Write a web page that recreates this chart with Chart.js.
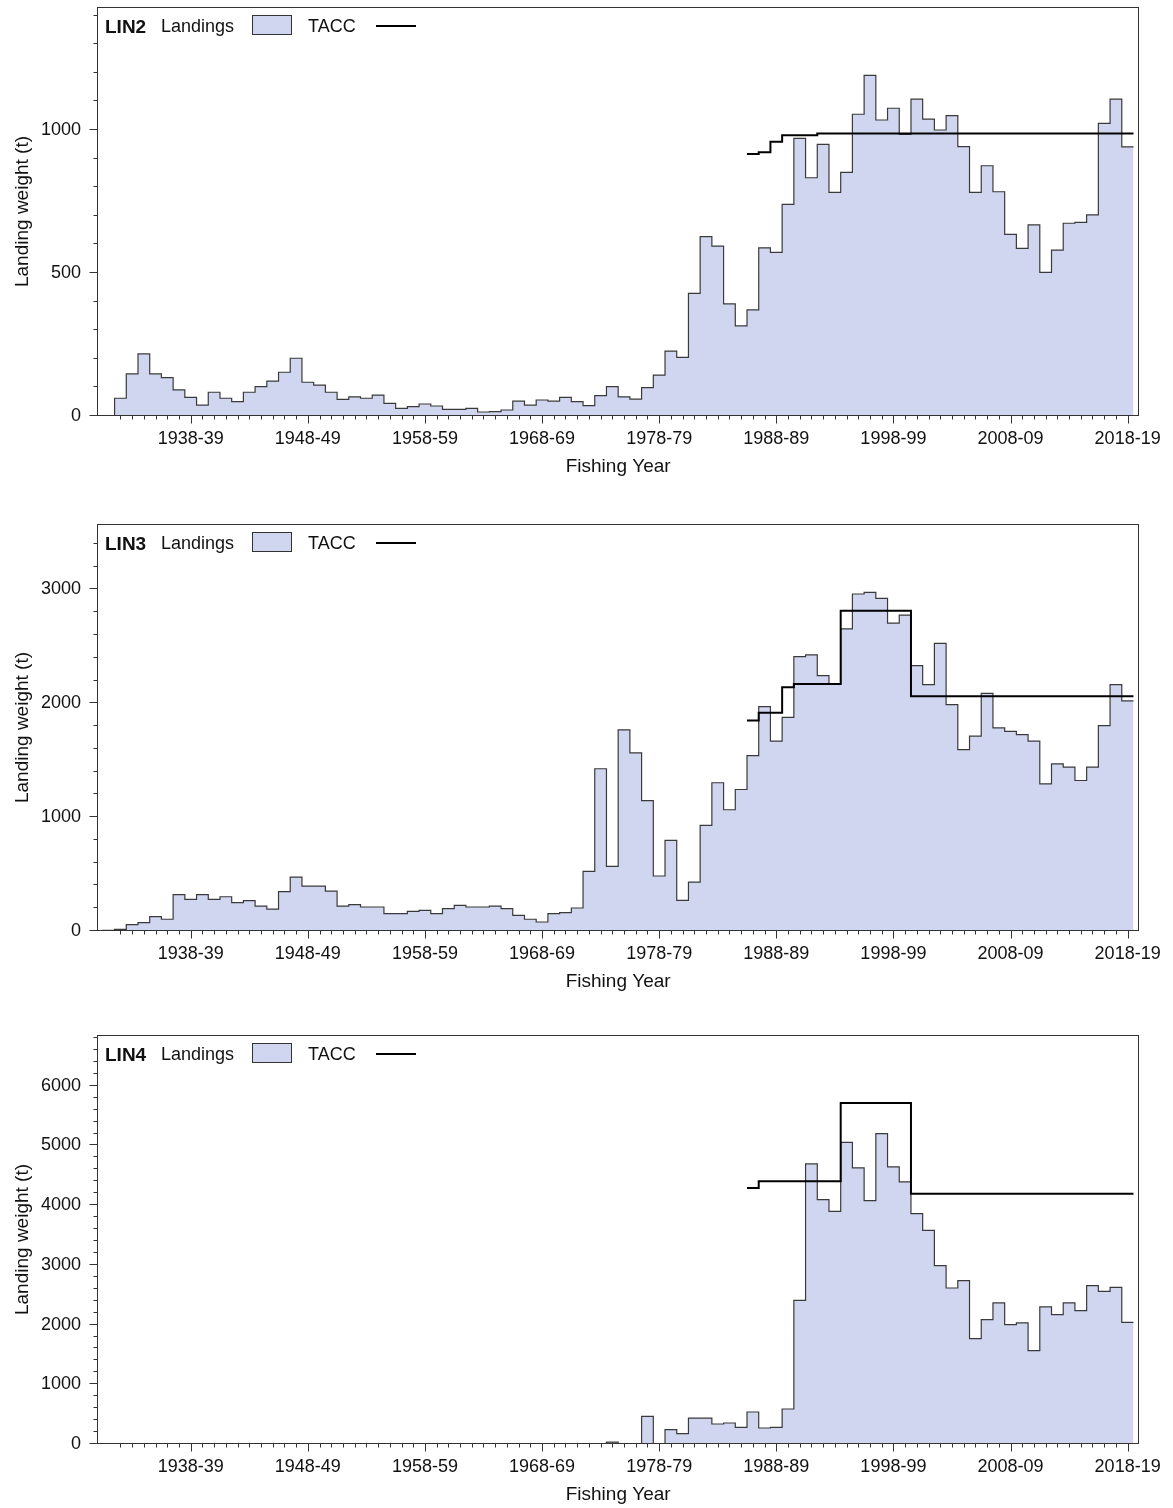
<!DOCTYPE html>
<html>
<head>
<meta charset="utf-8">
<script src="https://cdn.jsdelivr.net/npm/chart.js@4.4.1/dist/chart.umd.min.js"></script>
<style>
  body { margin: 0; background: #fff; width: 1173px; height: 1508px; overflow: hidden; position: relative; }
  .panel { position: absolute; left: 0; width: 1173px; }
  .panel canvas { position: absolute; left: 0; top: 0; }
  .legend span { position: absolute; top: 16px; line-height: 20px; font: 18px "Liberation Sans", Arial, sans-serif; color: #111; white-space: nowrap; }
  .legend .name { left: 105px; font-weight: bold; font-size: 19px; }
  .legend .lab1 { left: 161px; }
  .legend .swatch { left: 252px; top: 15px; width: 38px; height: 18px; border: 1px solid #333; background: #D0D6F0; }
  .legend .lab2 { left: 308px; }
  .legend .ln { left: 376px; top: 25px; width: 40px; height: 2px; background: #000; }
</style>
</head>
<body>
<div class="panel" id="p1" style="top:0px"><canvas id="c1" width="1173" height="490"></canvas></div>
<div class="panel" id="p2" style="top:517px"><canvas id="c2" width="1173" height="488"></canvas></div>
<div class="panel" id="p3" style="top:1028px"><canvas id="c3" width="1173" height="490"></canvas></div>
<script>
// fishing years are keyed by their first calendar year (1938 -> "1938-39")
const xTickYears = [1938, 1948, 1958, 1968, 1978, 1988, 1998, 2008, 2018];
const fishingYear = y => y + '-' + String(y + 1).slice(2);

// landings (t)
const lin2Start = 1932;
const lin2Landings = [62, 147, 217, 147, 134, 91, 65, 38, 83, 62,
  50, 83, 103, 122, 153, 202, 118, 108, 83, 58,
  67, 62, 73, 44, 27, 33, 42, 35, 23, 23,
  27, 14, 15, 21, 52, 38, 56, 52, 65, 50,
  36, 71, 103, 67, 59, 99, 143, 227, 205, 429,
  627, 594, 392, 315, 371, 588, 572, 740, 971, 833,
  950, 782, 852, 1055, 1191, 1035, 1076, 985, 1108, 1038,
  1000, 1050, 942, 782, 875, 784, 635, 586, 668, 502,
  580, 674, 677, 703, 1023, 1108, 941];

const lin3Start = 1931;
const lin3Landings = [5, 15, 56, 74, 126, 103, 319, 278, 319, 278,
  301, 249, 266, 219, 193, 345, 474, 395, 395, 351,
  219, 231, 211, 211, 152, 152, 173, 181, 152, 196,
  225, 211, 211, 219, 196, 138, 103, 79, 152, 161,
  202, 524, 1425, 568, 1767, 1565, 1146, 483, 796, 269,
  430, 927, 1302, 1065, 1243, 1541, 1971, 1667, 1877, 2410,
  2425, 2243, 2170, 2653, 2960, 2974, 2921, 2705, 2775, 2331,
  2164, 2526, 1989, 1594, 1711, 2088, 1784, 1754, 1725, 1667,
  1293, 1468, 1439, 1322, 1439, 1804, 2164, 2021];

const lin4Start = 1974;
const lin4Landings = [33, 8, 8, 463, 0, 240, 173, 435, 435, 335,
  352, 278, 536, 268, 278, 586, 2405, 4690, 4092, 3896,
  5052, 4623, 4075, 5198, 4640, 4389, 3858, 3578, 2987, 2613,
  2735, 1764, 2082, 2362, 1998, 2027, 1563, 2295, 2166, 2362,
  2233, 2652, 2556, 2623, 2037];

// TACC (t), 1986-87 onwards
const taccStart = 1986;
const lin2Tacc = [916, 922, 959, 982, 982, 982, 988, 988, 988, 988,
  988, 988, 988, 988, 988, 988, 988, 988, 988, 988,
  988, 988, 988, 988, 988, 988, 988, 988, 988, 988,
  988, 988, 988];
const lin3Tacc = [1848, 1916, 1916, 2140, 2170, 2170, 2170, 2170, 2813, 2813,
  2813, 2813, 2813, 2813, 2061, 2061, 2061, 2061, 2061, 2061,
  2061, 2061, 2061, 2061, 2061, 2061, 2061, 2061, 2061, 2061,
  2061, 2061, 2061];
const lin4Tacc = [4288, 4399, 4399, 4399, 4399, 4399, 4399, 4399, 5712, 5712,
  5712, 5712, 5712, 5712, 4190, 4190, 4190, 4190, 4190, 4190,
  4190, 4190, 4190, 4190, 4190, 4190, 4190, 4190, 4190, 4190,
  4190, 4190, 4190];

// y axis tick labels per panel
const lin2YTicks = [0, 500, 1000];
const lin3YTicks = [0, 1000, 2000, 3000];
const lin4YTicks = [0, 1000, 2000, 3000, 4000, 5000, 6000];

const FONT = '"Liberation Sans", Arial, sans-serif';
const TEXT = '#111';

// each value covers its whole year, so step edges sit half a year either side
function stepPoints(start, values, fromBase) {
  const pts = fromBase ? [{ x: start - 0.5, y: 0 }] : [];
  values.forEach((v, i) => pts.push({ x: start + i - 0.5, y: v }));
  pts.push({ x: start + values.length - 0.5, y: values[values.length - 1] });
  return pts;
}

// box round the plot and the outward tick marks (long at labels, short between)
const frameTicks = {
  id: 'frameTicks',
  afterDatasetsDraw(chart, args, opts) {
    const { ctx, chartArea: a, scales: { x, y } } = chart;
    ctx.save();
    ctx.strokeStyle = '#333';
    ctx.lineWidth = 1;
    ctx.strokeRect(Math.round(a.left) + 0.5, Math.round(a.top) + 0.5,
      Math.round(a.right - a.left) - 1, Math.round(a.bottom - a.top) - 1);
    ctx.beginPath();
    const b = Math.round(a.bottom) - 0.5;
    for (let yr = 1932; yr <= 2018; yr++) {
      const px = Math.round(x.getPixelForValue(yr)) + 0.5;
      const len = xTickYears.includes(yr) ? 8 : 4;
      ctx.moveTo(px, b);
      ctx.lineTo(px, b + len);
    }
    const l = Math.round(a.left) + 0.5;
    for (let v = 0; v <= y.max; v += opts.minor) {
      const py = Math.round(y.getPixelForValue(v)) - 0.5;
      const len = v % opts.major === 0 ? 8 : 4;
      ctx.moveTo(l, py);
      ctx.lineTo(l - len, py);
    }
    ctx.stroke();
    ctx.restore();
  }
};

function addLegend(panelId, name) {
  const lg = document.createElement('div');
  lg.className = 'legend';
  lg.innerHTML = '<span class="name">' + name + '</span><span class="lab1">Landings</span>' +
    '<span class="swatch"></span><span class="lab2">TACC</span><span class="ln"></span>';
  document.getElementById(panelId).appendChild(lg);
}

function makePanel(canvasId, panelId, name, start, landings, tacc, yMax, yTicks, minor, major) {
  new Chart(document.getElementById(canvasId), {
    type: 'line',
    data: {
      datasets: [
        {
          label: 'TACC',
          data: stepPoints(taccStart, tacc, false),
          stepped: true,
          borderColor: '#000',
          borderWidth: 2,
          pointRadius: 0,
          fill: false,
          order: 0
        },
        {
          label: 'Landings',
          data: stepPoints(start, landings, true),
          stepped: true,
          borderColor: '#3a3a3a',
          borderWidth: 1.2,
          backgroundColor: '#D0D6F0',
          pointRadius: 0,
          fill: 'origin',
          order: 1
        }
      ]
    },
    options: {
      responsive: false,
      animation: false,
      layout: { padding: { top: 7, right: 30, left: 0, bottom: 0 } },
      plugins: {
        legend: { display: false },
        tooltip: { enabled: false },
        frameTicks: { minor: minor, major: major }
      },
      scales: {
        x: {
          type: 'linear',
          min: 1930,
          max: 2019,
          grid: { display: false, drawTicks: false },
          border: { display: false },
          afterBuildTicks: s => { s.ticks = xTickYears.map(v => ({ value: v })); },
          afterFit: s => { s.height = 74; },
          ticks: {
            autoSkip: false, maxRotation: 0, padding: 12,
            color: TEXT, font: { family: FONT, size: 18 },
            callback: v => fishingYear(v)
          },
          title: {
            display: true, text: 'Fishing Year', color: TEXT,
            font: { family: FONT, size: 19 }, padding: { top: 0, bottom: 12 }
          }
        },
        y: {
          min: 0,
          max: yMax,
          grid: { display: false, drawTicks: false },
          border: { display: false },
          afterBuildTicks: s => { s.ticks = yTicks.map(v => ({ value: v })); },
          afterFit: s => { s.width = 97; s.paddingTop = 0; s.paddingBottom = 0; },
          ticks: {
            padding: 16, color: TEXT, font: { family: FONT, size: 18 },
            callback: v => String(v)
          },
          title: {
            display: true, text: 'Landing weight (t)', color: TEXT,
            font: { family: FONT, size: 19 }, padding: { top: 11, bottom: 0 }
          }
        }
      }
    },
    plugins: [frameTicks]
  });
  addLegend(panelId, name);
}

makePanel('c1', 'p1', 'LIN2', lin2Start, lin2Landings, lin2Tacc, 1430, lin2YTicks, 100, 500);
makePanel('c2', 'p2', 'LIN3', lin3Start, lin3Landings, lin3Tacc, 3575, lin3YTicks, 200, 1000);
makePanel('c3', 'p3', 'LIN4', lin4Start, lin4Landings, lin4Tacc, 6850, lin4YTicks, 200, 1000);
</script>
</body>
</html>
